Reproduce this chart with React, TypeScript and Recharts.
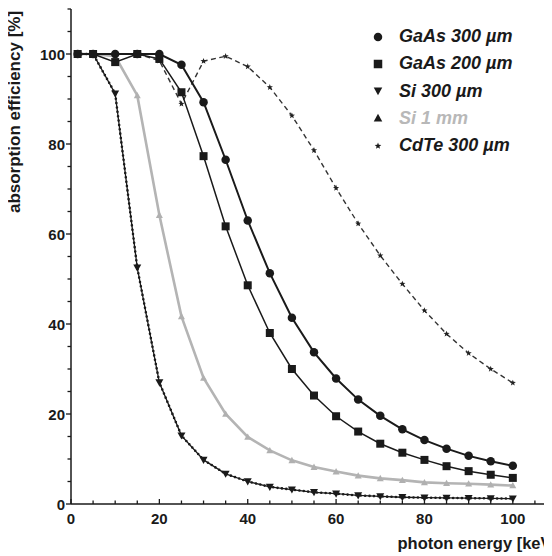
import { Line, LineChart, XAxis, YAxis } from "recharts";

// photon energies in keV, one row per sample
const energy = [1.5, 5, 10, 15, 20, 25, 30, 35, 40, 45, 50, 55, 60, 65, 70, 75, 80, 85, 90, 95, 100];

// absorption efficiency in %
const gaas300 = [100, 100, 100, 100, 100, 97.6, 89.3, 76.5, 63.0, 51.3, 41.4, 33.7, 27.9, 23.2, 19.6, 16.6, 14.2, 12.3, 10.7, 9.5, 8.5];
const gaas200 = [100, 100, 98.2, 100, 98.9, 91.5, 77.3, 61.7, 48.6, 38.0, 30.0, 24.1, 19.5, 16.1, 13.4, 11.4, 9.8, 8.4, 7.3, 6.5, 5.8];
const si300 = [100, 100, 91.2, 52.5, 27.0, 15.2, 9.8, 6.7, 5.0, 3.8, 3.2, 2.6, 2.3, 1.9, 1.7, 1.5, 1.4, 1.35, 1.3, 1.25, 1.2];
const si1mm = [100, 100, 99.5, 90.8, 64.2, 41.7, 28.0, 20.0, 14.9, 11.9, 9.7, 8.2, 7.2, 6.3, 5.7, 5.3, 4.8, 4.6, 4.5, 4.3, 4.1];
const cdte300 = [100, 100, 100, 100, 98.5, 88.9, 98.4, 99.5, 97.2, 92.6, 86.3, 78.6, 70.2, 62.3, 55.2, 48.9, 43.0, 37.8, 33.5, 30.0, 26.9];

const xTicks = [0, 5, 10, 15, 20, 25, 30, 35, 40, 45, 50, 55, 60, 65, 70, 75, 80, 85, 90, 95, 100, 105, 110];
const yTicks = [0, 5, 10, 15, 20, 25, 30, 35, 40, 45, 50, 55, 60, 65, 70, 75, 80, 85, 90, 95, 100, 105, 110];
const xLabels = [0, 20, 40, 60, 80, 100];
const yLabels = [0, 20, 40, 60, 80, 100];

const data = energy.map((e, i) => ({
  e,
  gaas300: gaas300[i],
  gaas200: gaas200[i],
  si300: si300[i],
  si1mm: si1mm[i],
  cdte300: cdte300[i],
}));

const FONT = '"Liberation Sans", Arial, Helvetica, sans-serif';
const INK = "#1a1a1a";

type Shape = "circle" | "square" | "down" | "up" | "star";

const series = [
  { key: "cdte300", name: "CdTe 300 µm", shape: "star" as Shape, stroke: "#333", width: 1.4, dash: "5 3.5", size: 6.5, fill: "#222", text: INK },
  { key: "si1mm", name: "Si 1 mm", shape: "up" as Shape, stroke: "#b4b4b4", width: 2.6, dash: undefined, size: 7, fill: "#b0b0b0", text: "#b8b8b8" },
  { key: "si300", name: "Si 300 µm", shape: "down" as Shape, stroke: INK, width: 1.3, dash: undefined, size: 8, fill: INK, text: INK },
  { key: "gaas200", name: "GaAs 200 µm", shape: "square" as Shape, stroke: INK, width: 1.5, dash: undefined, size: 8, fill: INK, text: INK },
  { key: "gaas300", name: "GaAs 300 µm", shape: "circle" as Shape, stroke: INK, width: 2, dash: undefined, size: 8.5, fill: INK, text: INK },
];

const legendOrder = ["gaas300", "gaas200", "si300", "si1mm", "cdte300"];

function starPath(cx: number, cy: number, R: number) {
  const pts: string[] = [];
  for (let i = 0; i < 10; i++) {
    const r = i % 2 === 0 ? R : R * 0.42;
    const a = -Math.PI / 2 + (i * Math.PI) / 5;
    pts.push(`${cx + r * Math.cos(a)},${cy + r * Math.sin(a)}`);
  }
  return `M${pts.join("L")}Z`;
}

function Marker({ shape, cx, cy, size, fill }: { shape: Shape; cx: number; cy: number; size: number; fill: string }) {
  const h = size / 2;
  switch (shape) {
    case "circle":
      return <circle cx={cx} cy={cy} r={h} fill={fill} />;
    case "square":
      return <rect x={cx - h} y={cy - h} width={size} height={size} fill={fill} />;
    case "down":
      return <path d={`M${cx - h},${cy - h * 0.8}L${cx + h},${cy - h * 0.8}L${cx},${cy + h}Z`} fill={fill} />;
    case "up":
      return <path d={`M${cx - h},${cy + h * 0.8}L${cx + h},${cy + h * 0.8}L${cx},${cy - h}Z`} fill={fill} />;
    default:
      return <path d={starPath(cx, cy, h)} fill={fill} />;
  }
}

// x ticks point into the plot, labels only every 20 keV
const XTick = (p: any) => {
  const v = p.payload.value;
  const major = xLabels.includes(v);
  return (
    <g>
      <line x1={p.x} x2={p.x} y1={p.y} y2={p.y - (major ? 5 : 3.5)} stroke={INK} strokeWidth={1.3} />
      {major && (
        <text x={p.x} y={p.y + 20} textAnchor="middle" fontSize={15} fontWeight={700} fill={INK} fontFamily={FONT}>
          {v}
        </text>
      )}
    </g>
  );
};

// y ticks point outwards
const YTick = (p: any) => {
  const v = p.payload.value;
  const major = yLabels.includes(v);
  return (
    <g>
      <line x1={p.x} x2={p.x - (major ? 5 : 3.5)} y1={p.y} y2={p.y} stroke={INK} strokeWidth={1.3} />
      {major && (
        <text x={p.x - 6} y={p.y + 5.5} textAnchor="end" fontSize={15} fontWeight={700} fill={INK} fontFamily={FONT}>
          {v}
        </text>
      )}
    </g>
  );
};

const yTitle = () => (
  <text
    x={12}
    y={104}
    transform="rotate(-90 12 104)"
    textAnchor="middle"
    fontSize={17}
    fontWeight={700}
    fill={INK}
    fontFamily={FONT}
  >
    absorption efficiency [%]
  </text>
);

const xTitle = () => (
  <text x={549} y={540.5} textAnchor="end" fontSize={16.5} fontWeight={700} fill={INK} fontFamily={FONT}>
    photon energy [keV]
  </text>
);

function LegendBox() {
  return (
    <div style={{ position: "absolute", left: 362, top: 15, fontFamily: FONT }}>
      {legendOrder.map((k) => {
        const s = series.find((x) => x.key === k)!;
        return (
          <div key={k} style={{ height: 27.25, display: "flex", alignItems: "center" }}>
            <svg width={16} height={16} style={{ display: "block" }}>
              <Marker shape={s.shape} cx={8} cy={8} size={s.shape === "star" ? 7 : 8.5} fill={INK} />
            </svg>
            <span
              style={{
                marginLeft: 13,
                fontSize: 18,
                fontStyle: "italic",
                fontWeight: 700,
                color: s.text,
                whiteSpace: "nowrap",
              }}
            >
              {s.name}
            </span>
          </div>
        );
      })}
    </div>
  );
}

export default function App() {
  return (
    <div style={{ position: "relative", width: 544, height: 548, overflow: "hidden", background: "#fff" }}>
      <LineChart width={560} height={548} data={data} margin={{ top: 1, right: 11, bottom: 0, left: 0 }}>
        <XAxis
          dataKey="e"
          type="number"
          domain={[0, 110]}
          ticks={xTicks}
          interval={0}
          height={52}
          tickSize={0}
          tickMargin={0}
          tickLine={false}
          tick={XTick}
          axisLine={{ stroke: INK, strokeWidth: 1.5 }}
          label={xTitle}
        />
        <XAxis
          xAxisId="top"
          orientation="top"
          dataKey="e"
          type="number"
          domain={[0, 110]}
          height={0}
          tick={false}
          tickLine={false}
          axisLine={{ stroke: INK, strokeWidth: 1.5 }}
        />
        <YAxis
          type="number"
          domain={[0, 110]}
          ticks={yTicks}
          interval={0}
          width={63}
          tickSize={0}
          tickMargin={0}
          tickLine={false}
          tick={YTick}
          axisLine={{ stroke: INK, strokeWidth: 1.5 }}
          label={yTitle}
        />
        {series.map((s) => (
          <Line
            key={s.key}
            dataKey={s.key}
            name={s.name}
            type="linear"
            stroke={s.stroke}
            strokeWidth={s.width}
            strokeDasharray={s.dash}
            activeDot={false}
            isAnimationActive={false}
            dot={(p: any) => (
              <Marker key={`${s.key}-${p.index}`} shape={s.shape} cx={p.cx} cy={p.cy} size={s.size} fill={s.fill} />
            )}
          />
        ))}
        {/* beaded look of the Si 300 µm curve */}
        <Line
          dataKey="si300"
          type="linear"
          stroke={INK}
          strokeWidth={2.6}
          strokeDasharray="0 4.4"
          strokeLinecap="round"
          dot={false}
          activeDot={false}
          legendType="none"
          isAnimationActive={false}
        />
      </LineChart>
      <LegendBox />
    </div>
  );
}
